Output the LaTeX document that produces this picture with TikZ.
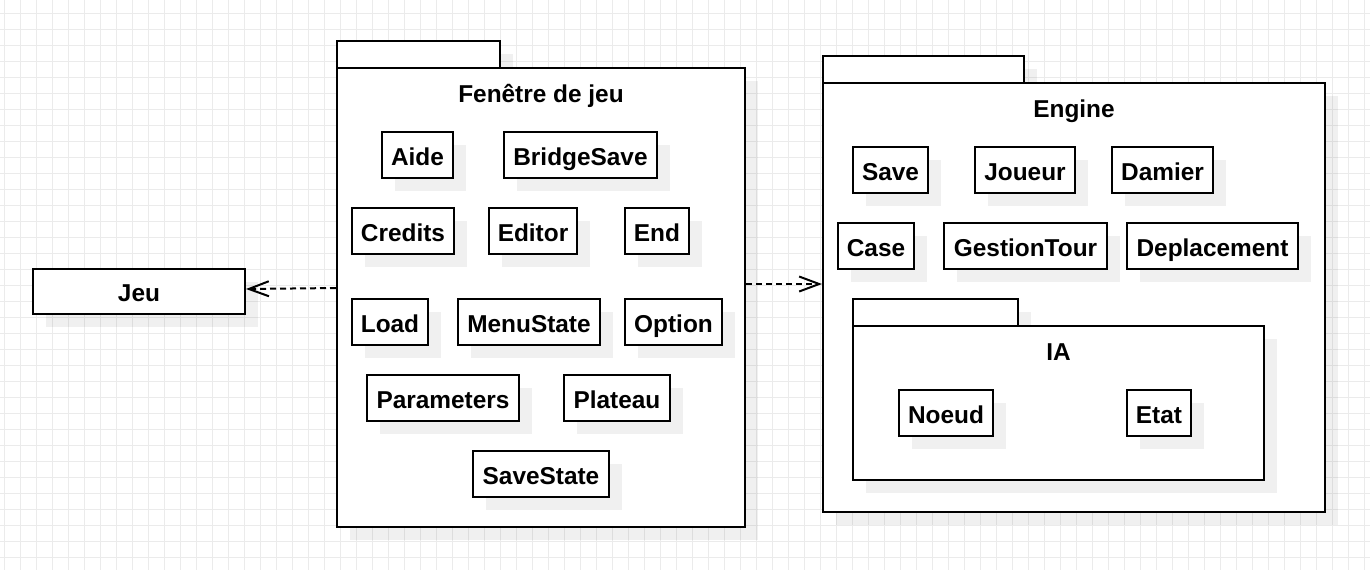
\documentclass[tikz,border=0pt]{standalone}
\usepackage{fontspec}
\setmainfont{Liberation Sans}
\usetikzlibrary{shadows,arrows.meta,calc}
\definecolor{gridc}{HTML}{EBEBEB}
\newcommand\umlrect[7]{%
  \pgfmathsetmacro\myBW{(#5-#3)*0.5}%
  \pgfmathsetmacro\myBH{(#6-#4)*0.5}%
  \node[#1,minimum width=\myBW pt,minimum height=\myBH pt] (#2) at ({(#3+#5)/2},{(#4+#6)/2}) {#7};}
\tikzset{
  shadowed/.style={drop shadow={shadow xshift=6.5pt,shadow yshift=-6.5pt,fill=black,opacity=0.06}},
  lbl/.style={font=\bfseries\fontsize{12.2pt}{14pt}\selectfont},
  clsbox/.style={draw=black,fill=white,line width=1pt,inner sep=0pt,shadowed,lbl,text height=10pt,text depth=0pt},
  pkgpart/.style={draw=black,fill=white,line width=1pt,inner sep=0pt,shadowed},
  pkgtitle/.style={anchor=base,inner sep=0pt,lbl},
  dep/.style={draw=black,line width=1pt,dash pattern=on 3pt off 2pt,-{Straight Barb[length=10pt,width=7.5pt]}}
}
\begin{document}
\begin{tikzpicture}[x=0.5pt,y=-0.5pt]
\useasboundingbox (0,0) rectangle (1370,570);
\fill[white] (0,0) rectangle (1370,570);
\begin{scope}
\clip (0,0) rectangle (1370,570);
\foreach \gx in {4,20,...,1370} \draw[gridc,line width=0.5pt] (\gx,0) -- (\gx,570);
\foreach \gy in {13,29,...,570} \draw[gridc,line width=0.5pt] (0,\gy) -- (1370,\gy);
\end{scope}

% Jeu
\umlrect{clsbox}{jeu}{33}{269}{245}{314}{Jeu}

% Fenetre de jeu package
\umlrect{pkgpart}{fentab}{337}{41}{500}{68}{}
\umlrect{pkgpart}{fenbody}{337}{68}{745}{527}{}
\node[pkgtitle] (fentitle) at (541,102) {Fenêtre de jeu};
\umlrect{clsbox}{aide}{382}{132}{453}{178}{Aide}
\umlrect{clsbox}{bridgesave}{504}{132}{657}{178}{BridgeSave}
\umlrect{clsbox}{credits}{352}{208}{454}{254}{Credits}
\umlrect{clsbox}{editor}{489}{208}{577}{254}{Editor}
\umlrect{clsbox}{endb}{625}{208}{689}{254}{End}
\umlrect{clsbox}{load}{352}{299}{428}{345}{Load}
\umlrect{clsbox}{menustate}{458}{299}{600}{345}{MenuState}
\umlrect{clsbox}{option}{625}{299}{722}{345}{Option}
\umlrect{clsbox}{parameters}{367}{375}{519}{421}{Parameters}
\umlrect{clsbox}{plateau}{564}{375}{670}{421}{Plateau}
\umlrect{clsbox}{savestate}{473}{451}{609}{497}{SaveState}

% Engine package
\umlrect{pkgpart}{engtab}{823}{56}{1024}{83}{}
\umlrect{pkgpart}{engbody}{823}{83}{1325}{512}{}
\node[pkgtitle] (engtitle) at (1074,117) {Engine};
\umlrect{clsbox}{save}{853}{147}{928}{193}{Save}
\umlrect{clsbox}{joueur}{975}{147}{1075}{193}{Joueur}
\umlrect{clsbox}{damier}{1112}{147}{1213}{193}{Damier}
\umlrect{clsbox}{case}{838}{223}{914}{269}{Case}
\umlrect{clsbox}{gestiontour}{944}{223}{1107}{269}{GestionTour}
\umlrect{clsbox}{deplacement}{1127}{223}{1298}{269}{Deplacement}

% IA package
\umlrect{pkgpart}{iatab}{853}{299}{1018}{326}{}
\umlrect{pkgpart}{iabody}{853}{326}{1264}{480}{}
\node[pkgtitle] (iatitle) at (1058.5,360) {IA};
\umlrect{clsbox}{noeud}{899}{390}{993}{436}{Noeud}
\umlrect{clsbox}{etat}{1127}{390}{1191}{436}{Etat}

% dependencies
\draw[dep] ($(fenbody.west)+(0,-9.5)$) -- ($(jeu.east)+(0,-2.5)$);
\draw[dep] ($(fenbody.east)+(0,-13.5)$) -- ($(engbody.west)+(0,-13.5)$);
\end{tikzpicture}
\end{document}
